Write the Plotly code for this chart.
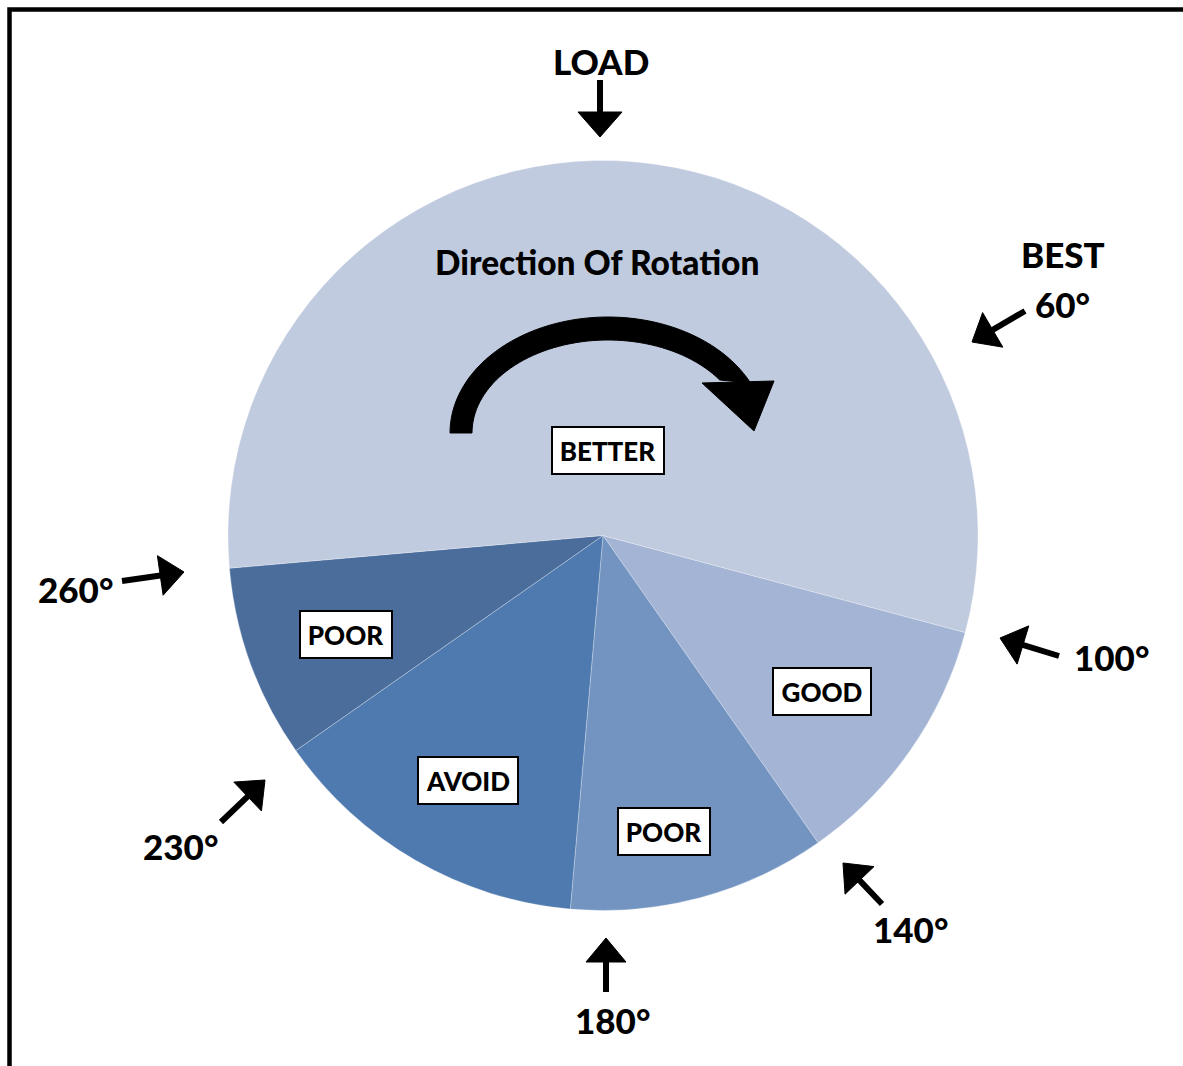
import numpy as np
import plotly.graph_objects as go

# ---------------- data ----------------
zone_ids = ["good", "poor_140_180", "avoid", "poor_230_260", "better"]
zone_labels = ["GOOD", "POOR", "AVOID", "POOR", "BETTER"]
zone_degrees = [40, 40, 50, 30, 200]          # angular extent of each zone
zone_start = 105                                # first zone starts here (deg, clockwise from 12 o'clock)
angle_marks = ["60°", "100°", "140°", "180°", "230°", "260°"]
top_label = "LOAD"
best_label = "BEST"
rotation_label = "Direction Of Rotation"

# ---------------- style / layout ----------------
W, H = 1183, 1066
zone_colors = ["#A3B4D4", "#7394C1", "#4F7AAF", "#4A6D9C", "#C1CBDF"]
CX, CY, R = 603, 535.5, 375
label_radial = [0.716, 0.805, 0.745, 0.734, 0.228]
label_angle_shift = [0.4, 3.3, -1.1, -1.0, -1.7]
label_box_w = [96, 90, 98, 90, 110]
FONT = "Lato"
WEIGHT = 900
fs_big = 35
fs_box = 26


def px(x):
    return x / W


def py(y):
    return 1 - y / H


fig = go.Figure()
fig.add_trace(go.Pie(
    values=zone_degrees, labels=zone_ids, sort=False, direction="clockwise",
    rotation=zone_start, textinfo="none", hoverinfo="skip", showlegend=False,
    marker=dict(colors=zone_colors, line=dict(color="rgba(255,255,255,0.35)", width=0.8)),
    domain=dict(x=[px(CX - R), px(CX + R)], y=[py(CY + R), py(CY - R)]),
))

annotations = []
shapes = []

# zone labels in boxes
cum = zone_start
for lab, deg, frac, shift, bw in zip(zone_labels, zone_degrees, label_radial,
                                      label_angle_shift, label_box_w):
    mid = np.deg2rad(cum + deg / 2 + shift)
    cum += deg
    x = CX + frac * R * np.sin(mid)
    y = CY - frac * R * np.cos(mid)
    annotations.append(dict(
        x=px(x), y=py(y), xref="paper", yref="paper", showarrow=False,
        xanchor="center", yanchor="middle",
        text=lab, font=dict(family=FONT, size=fs_box, color="black", weight=WEIGHT),
        bgcolor="white", bordercolor="black", borderwidth=2, borderpad=0,
        width=bw, height=45, align="center", valign="middle",
    ))


def add_text(txt, x, y, size=fs_big):
    annotations.append(dict(
        x=px(x), y=py(y), xref="paper", yref="paper", showarrow=False,
        text=txt, font=dict(family=FONT, size=size, color="black", weight=WEIGHT),
        xanchor="center", yanchor="middle",
    ))


def add_arrow(tail, tip, head_len=24, head_w=42, lw=6):
    t = np.array(tail, float)
    p = np.array(tip, float)
    u = (p - t) / np.linalg.norm(p - t)
    n = np.array([-u[1], u[0]])
    base = p - u * head_len
    end = base + u * 2
    shapes.append(dict(type="line", xref="paper", yref="paper",
                       x0=px(t[0]), y0=py(t[1]), x1=px(end[0]), y1=py(end[1]),
                       line=dict(color="black", width=lw)))
    a = base + n * head_w / 2
    b = base - n * head_w / 2
    path = "M %f,%f L %f,%f L %f,%f Z" % (px(p[0]), py(p[1]), px(a[0]), py(a[1]), px(b[0]), py(b[1]))
    shapes.append(dict(type="path", xref="paper", yref="paper", path=path,
                       fillcolor="black", line=dict(color="black", width=1)))


# LOAD
add_text(top_label, 601, 61)
add_arrow((600, 80), (600, 137), head_len=25, head_w=44)

# angle marks: (text position, arrow tail, arrow tip)
mark_layout = [
    ((1062, 304), (1025, 311), (972, 342)),
    ((1111, 657), (1059, 656), (1000, 638)),
    ((910, 929), (882, 904), (843, 863)),
    ((612, 1020), (606, 992), (606, 938)),
    ((180, 846), (221, 822), (265, 780)),
    ((75, 589), (122, 581), (184, 572)),
]
for lab, (tp, tail, tip) in zip(angle_marks, mark_layout):
    add_text(lab, *tp)
    add_arrow(tail, tip, head_len=24, head_w=40)
add_text(best_label, 1063, 254)

# direction of rotation
add_text(rotation_label, 597, 262, size=33.5)

# curved arrow: band between two ellipses
ecx, ecy = 608, 433
t_out = np.linspace(0, np.pi - np.arcsin(50 / 116), 60)
t_in = np.linspace(0, np.pi - np.arcsin(53 / 93), 60)
outer = [(ecx - 158 * np.cos(t), ecy - 116 * np.sin(t)) for t in t_out]
inner = [(ecx - 136 * np.cos(t), ecy - 93 * np.sin(t)) for t in t_in][::-1]
pts = outer + inner
path = "M " + " L ".join("%f,%f" % (px(x), py(y)) for x, y in pts) + " Z"
shapes.append(dict(type="path", xref="paper", yref="paper", path=path,
                   fillcolor="black", line=dict(color="black", width=1)))
head = [(702, 383), (774, 381), (754, 431)]
path = "M " + " L ".join("%f,%f" % (px(x), py(y)) for x, y in head) + " Z"
shapes.append(dict(type="path", xref="paper", yref="paper", path=path,
                   fillcolor="black", line=dict(color="black", width=1)))

# frame
shapes.append(dict(type="rect", xref="paper", yref="paper",
                   x0=px(9.5), y0=py(H + 30), x1=px(W + 30), y1=py(9.5),
                   line=dict(color="black", width=4.5), layer="above"))

fig.update_layout(
    width=W, height=H, margin=dict(l=0, r=0, t=0, b=0),
    paper_bgcolor="white", plot_bgcolor="white",
    annotations=annotations, shapes=shapes,
    font=dict(family=FONT),
)

fig.write_html("out.html", config={"displayModeBar": False},
               post_script="document.body.style.margin='0px';")
